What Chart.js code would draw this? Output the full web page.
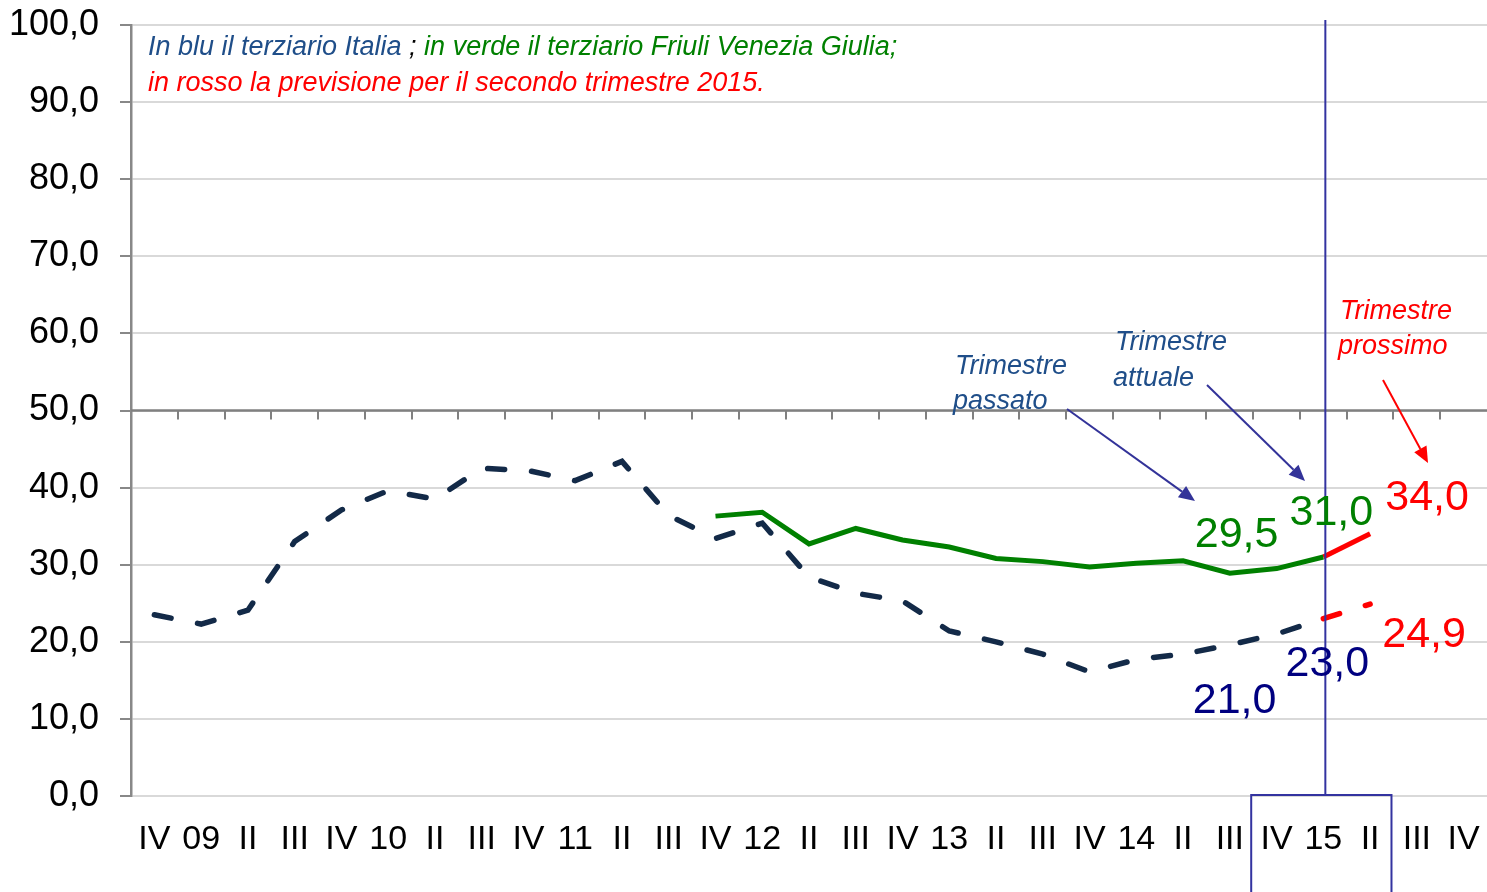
<!DOCTYPE html>
<html>
<head>
<meta charset="utf-8">
<script src="https://cdn.jsdelivr.net/npm/chart.js@4.4.1/dist/chart.umd.min.js"></script>
<style>
  html, body { margin: 0; padding: 0; background: #fff; }
  #wrap { width: 1487px; height: 892px; }
</style>
</head>
<body>
<div id="wrap"><canvas id="chart" width="1487" height="892"></canvas></div>
<script>
// Quarter labels (IV 2008 ... IV 2015)
const quarters = ["IV", "09", "II", "III", "IV", "10", "II", "III", "IV", "11", "II", "III",
    "IV", "12", "II", "III", "IV", "13", "II", "III", "IV", "14", "II", "III",
    "IV", "15", "II", "III", "IV"];

// Terziario Italia (blue dashed)
const italia = [23.5, 22.3, 24.1, 33.0, 37.1, 39.6, 38.5, 42.5, 42.2, 40.9, 43.4, 36.4,
    33.4, 35.4, 28.4, 26.3, 25.3, 21.4, 20.0, 18.4, 16.1, 17.7, 18.4, 19.6,
    21.0, 23.0, null, null, null];

// Terziario Friuli Venezia Giulia (green)
const fvg = [null, null, null, null, null, null, null, null, null, null, null, null,
    36.3, 36.8, 32.7, 34.7, 33.2, 32.3, 30.8, 30.4, 29.7, 30.2, 30.5, 28.9,
    29.5, 31.0, null, null, null];

// Previsione II trimestre 2015 (red)
const prevFvg = [];
const prevItalia = [];
quarters.forEach(() => { prevFvg.push(null); prevItalia.push(null); });
prevFvg[25] = 31.0; prevFvg[26] = 34.0;
prevItalia[25] = 23.0; prevItalia[26] = 24.9;

const yTicks = [0, 10, 20, 30, 40, 50, 60, 70, 80, 90, 100];

const fmt = v => v.toFixed(1).replace('.', ',');
const FONT = "'Liberation Sans', Arial, sans-serif";

// Value labels: [datasetIndex, pointIndex, color, dx, dy]
const valueLabels = [
    [1, 24, '#008000', -40, -33],
    [1, 25, '#008000', 8, -44],
    [2, 26, '#FF0000', 57, -36],
    [0, 24, '#000080', -42, 67],
    [0, 25, '#000080', 4, 45],
    [3, 26, '#FF0000', 54, 31]
];

const overlay = {
    id: 'overlay',
    beforeDatasetsDraw(chart) {
        const { ctx, chartArea, scales: { y } } = chart;
        const y50 = y.getPixelForValue(50);
        const step = (chartArea.right - chartArea.left) / quarters.length;
        ctx.save();
        ctx.strokeStyle = '#808080';
        ctx.lineWidth = 2.5;
        ctx.beginPath();
        ctx.moveTo(chartArea.left, y50);
        ctx.lineTo(chartArea.right, y50);
        ctx.stroke();
        ctx.lineWidth = 2;
        for (let i = 1; i < quarters.length; i++) {
            const px = Math.round(chartArea.left + i * step);
            ctx.beginPath();
            ctx.moveTo(px, y50);
            ctx.lineTo(px, y50 + 9);
            ctx.stroke();
        }
        ctx.restore();
    },
    afterDatasetsDraw(chart) {
        const { ctx, chartArea, scales: { x } } = chart;
        const step = (chartArea.right - chartArea.left) / quarters.length;
        ctx.save();

        // current quarter marker
        const xNow = x.getPixelForValue(25) + 2;
        ctx.strokeStyle = '#3333A0';
        ctx.lineWidth = 2;
        ctx.beginPath();
        ctx.moveTo(xNow, 20);
        ctx.lineTo(xNow, chartArea.bottom);
        ctx.stroke();
        const bx0 = chartArea.left + 24 * step - 2;
        const bx1 = chartArea.left + 27 * step - 2;
        ctx.beginPath();
        ctx.moveTo(bx0, 900);
        ctx.lineTo(bx0, chartArea.bottom - 1);
        ctx.lineTo(bx1, chartArea.bottom - 1);
        ctx.lineTo(bx1, 900);
        ctx.stroke();

        // header text
        ctx.font = 'italic 27px ' + FONT;
        ctx.textBaseline = 'middle';
        ctx.textAlign = 'left';
        let tx = 148;
        const parts = [
            ['In blu il terziario Italia', '#1F4E89'],
            [' ; ', '#000000'],
            ['in verde il terziario Friuli Venezia Giulia;', '#008000']
        ];
        parts.forEach(([t, c]) => {
            ctx.fillStyle = c;
            ctx.fillText(t, tx, 47);
            tx += ctx.measureText(t).width;
        });
        ctx.fillStyle = '#FF0000';
        ctx.fillText('in rosso la previsione per il secondo trimestre 2015.', 148, 83);

        // annotations
        ctx.fillStyle = '#1F4E89';
        ctx.fillText('Trimestre', 955, 366);
        ctx.fillText('passato', 953, 401);
        ctx.fillText('Trimestre', 1115, 342);
        ctx.fillText('attuale', 1113, 378);
        ctx.fillStyle = '#FF0000';
        ctx.fillText('Trimestre', 1340, 311);
        ctx.fillText('prossimo', 1338, 346);

        const arrow = (x0, y0, x1, y1, color) => {
            ctx.strokeStyle = color;
            ctx.fillStyle = color;
            ctx.lineWidth = 2;
            const a = Math.atan2(y1 - y0, x1 - x0);
            const hl = 16, hw = 7;
            const bxp = x1 - hl * Math.cos(a), byp = y1 - hl * Math.sin(a);
            ctx.beginPath();
            ctx.moveTo(x0, y0);
            ctx.lineTo(bxp, byp);
            ctx.stroke();
            ctx.beginPath();
            ctx.moveTo(x1, y1);
            ctx.lineTo(bxp + hw * Math.sin(a), byp - hw * Math.cos(a));
            ctx.lineTo(bxp - hw * Math.sin(a), byp + hw * Math.cos(a));
            ctx.closePath();
            ctx.fill();
        };
        arrow(1067, 409, 1195, 501, '#333399');
        arrow(1207, 385, 1305, 481, '#333399');
        arrow(1383, 380, 1428, 463, '#FF0000');

        // value labels
        ctx.font = '43px ' + FONT;
        ctx.textAlign = 'center';
        valueLabels.forEach(([ds, i, c, dx, dy]) => {
            const pt = chart.getDatasetMeta(ds).data[i];
            const v = chart.data.datasets[ds].data[i];
            ctx.fillStyle = c;
            ctx.fillText(fmt(v), pt.x + dx, pt.y + dy);
        });
        ctx.restore();
    }
};

const ctx = document.getElementById('chart').getContext('2d');
new Chart(ctx, {
    type: 'line',
    data: {
        labels: quarters,
        datasets: [
            {
                label: 'Italia',
                data: italia,
                borderColor: '#132A48',
                borderWidth: 5.5,
                borderDash: [17, 27],
                borderCapStyle: 'round',
                pointRadius: 0,
                tension: 0
            },
            {
                label: 'Friuli Venezia Giulia',
                data: fvg,
                borderColor: '#008000',
                borderWidth: 5,
                pointRadius: 0,
                tension: 0
            },
            {
                label: 'Previsione FVG',
                data: prevFvg,
                borderColor: '#FF0000',
                borderWidth: 5,
                pointRadius: 0,
                tension: 0
            },
            {
                label: 'Previsione Italia',
                data: prevItalia,
                borderColor: '#FF0000',
                borderWidth: 5.5,
                borderDash: [17, 27],
                borderCapStyle: 'round',
                pointRadius: 0,
                tension: 0
            }
        ]
    },
    options: {
        responsive: false,
        animation: false,
        layout: { padding: { top: 25, right: 0, bottom: 0, left: 0 } },
        plugins: {
            legend: { display: false },
            tooltip: { enabled: false }
        },
        scales: {
            x: {
                offset: true,
                grid: { display: false, offset: true },
                border: { display: false },
                ticks: {
                    autoSkip: false,
                    maxRotation: 0,
                    minRotation: 0,
                    padding: 15,
                    color: '#000',
                    font: { family: FONT, size: 34 }
                },
                afterFit(scale) {
                    scale.height = 96;
                    scale.paddingLeft = 0;
                    scale.paddingRight = 0;
                }
            },
            y: {
                min: 0,
                max: 100,
                afterBuildTicks(scale) { scale.ticks = yTicks.map(v => ({ value: v })); },
                grid: {
                    color: '#D9D9D9',
                    lineWidth: 2,
                    tickColor: '#888888',
                    tickLength: 11
                },
                border: { display: true, color: '#888888', width: 2.5 },
                ticks: {
                    padding: 21,
                    color: '#000',
                    font: { family: FONT, size: 36 },
                    callback: v => fmt(v)
                },
                afterFit(scale) {
                    scale.width = 131;
                    scale.paddingTop = 0;
                    scale.paddingBottom = 0;
                }
            }
        }
    },
    plugins: [overlay]
});
</script>
</body>
</html>
